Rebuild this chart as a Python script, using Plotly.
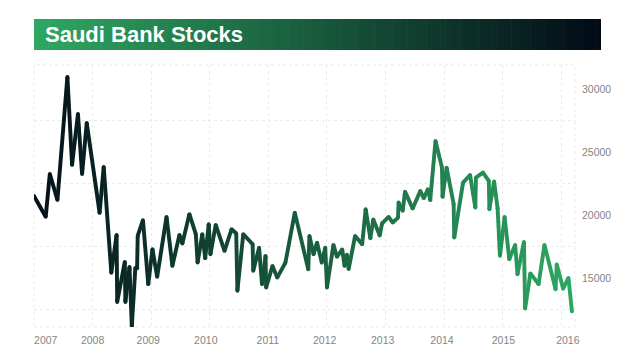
import plotly.graph_objects as go
import pandas as pd

# ---- data (decimal year, index value) ----
years = [2007.00, 2007.20, 2007.27, 2007.40, 2007.57, 2007.65, 2007.75, 2007.82, 2007.90,
         2008.12, 2008.19, 2008.32, 2008.41, 2008.42, 2008.55, 2008.56, 2008.63, 2008.67,
         2008.73, 2008.76, 2008.77, 2008.86, 2008.95, 2009.02, 2009.10, 2009.26, 2009.36,
         2009.48, 2009.53, 2009.65, 2009.76, 2009.79, 2009.87, 2009.92, 2009.98, 2010.01,
         2010.10, 2010.25, 2010.37, 2010.45, 2010.47, 2010.57, 2010.73, 2010.74, 2010.84,
         2010.89, 2010.95, 2010.96, 2011.07, 2011.15, 2011.29, 2011.45, 2011.68, 2011.70,
         2011.77, 2011.83, 2011.91, 2011.97, 2012.00, 2012.11, 2012.17, 2012.26, 2012.30,
         2012.34, 2012.37, 2012.48, 2012.60, 2012.66, 2012.74, 2012.79, 2012.90, 2012.94,
         2013.05, 2013.12, 2013.21, 2013.22, 2013.29, 2013.33, 2013.46, 2013.59, 2013.65,
         2013.72, 2013.76, 2013.85, 2013.96, 2013.97, 2014.04, 2014.16, 2014.17, 2014.32,
         2014.44, 2014.53, 2014.54, 2014.66, 2014.76, 2014.77, 2014.85, 2014.91, 2014.95,
         2015.03, 2015.11, 2015.21, 2015.25, 2015.36, 2015.38, 2015.47, 2015.61, 2015.71,
         2015.90, 2015.92, 2016.03, 2016.12, 2016.18]
values = [21500, 19850, 23250, 21190, 30950, 23970, 28020, 23250, 27300,
          20160, 23810, 15400, 18410, 13090, 16270, 13090, 15870, 11150,
          15790, 15770, 18330, 19580, 14500, 17280, 15080, 19840, 15950,
          18410, 17720, 20060, 18470, 16220, 18470, 16560, 19260, 16880,
          19210, 17140, 18860, 18520, 13970, 18470, 17670, 15560, 17400,
          14500, 16750, 14230, 15950, 15020, 16210, 20180, 15690, 18330,
          16880, 17800, 16210, 17400, 14230, 17620, 16670, 17260, 15950,
          16830, 15710, 18330, 17660, 20450, 18150, 19640, 18370, 19330,
          19840, 19390, 19790, 20980, 20320, 21850, 20500, 21900, 21330,
          22040, 21170, 25870, 23750, 21430, 23750, 20850, 18200, 22560,
          23170, 20580, 22960, 23360, 22700, 20450, 22650, 20530, 16750,
          19840, 16480, 17620, 15290, 17860, 12560, 15360, 14500, 17620,
          14100, 16060, 14140, 15000, 12340]

y_tick_values = [15000, 20000, 25000, 30000]
y_grid_values = [12500, 17500, 22500, 27500]
x_tick_labels = ["2007", "2008", "2009", "2010", "2011", "2012", "2013", "2014", "2015", "2016"]
x_label_years = [2007.2, 2008.0, 2008.95, 2009.93, 2010.99, 2011.96, 2012.95, 2013.96, 2015.01, 2016.11]
title_text = "Saudi Bank Stocks"


def to_date(y):
    yi = int(y)
    return pd.Timestamp(year=yi, month=1, day=1) + pd.Timedelta(days=(y - yi) * 365.25)


dates = [to_date(y) for y in years]
label_dates = [to_date(y) for y in x_label_years]

x_start = to_date(2007.0)
x_end = to_date(2016.232)
y_range = [11100, 31900]

dark = (4, 16, 26)
green = (44, 168, 98)


def mix(a, b, t):
    return "rgb(%d,%d,%d)" % tuple(round(a[k] + (b[k] - a[k]) * t) for k in range(3))


span = (x_end - x_start).total_seconds()


def frac(d):
    return max(0.0, min(1.0, (d - x_start).total_seconds() / span))


LW = 3.9
fig = go.Figure()
for i in range(len(dates) - 1):
    mid = dates[i] + (dates[i + 1] - dates[i]) / 2
    fig.add_trace(go.Scatter(
        x=[dates[i], dates[i + 1]], y=[values[i], values[i + 1]],
        mode="lines", line=dict(color=mix(dark, green, frac(mid)), width=LW),
        showlegend=False, hoverinfo="skip"))
fig.add_trace(go.Scatter(
    x=dates, y=values, mode="markers",
    marker=dict(size=LW, color=[mix(dark, green, frac(d)) for d in dates], line=dict(width=0)),
    showlegend=False, hovertemplate="%{x|%b %Y}: %{y}<extra></extra>"))
# invisible trace to activate label axes
fig.add_trace(go.Scatter(x=[x_start, x_end], y=y_range, xaxis="x2", yaxis="y2",
                         mode="markers", marker=dict(opacity=0), showlegend=False, hoverinfo="skip"))

grid_col = "#ebebeb"
tick_font = dict(family="Liberation Sans, Arial, sans-serif", size=10.5, color="#858585")

fig.update_layout(
    width=640, height=360,
    margin=dict(l=34, r=65, t=65, b=33, autoexpand=False),
    paper_bgcolor="white", plot_bgcolor="white",
    xaxis=dict(type="date", range=[x_start, x_end], dtick="M12", tick0="2007-01-01",
               showgrid=True, gridcolor=grid_col, griddash="dot", gridwidth=1,
               showticklabels=False, zeroline=False, showline=False, ticks=""),
    yaxis=dict(range=y_range, tickvals=y_grid_values, showgrid=True, gridcolor=grid_col,
               griddash="dot", gridwidth=1, showticklabels=False, zeroline=False, ticks=""),
    xaxis2=dict(type="date", overlaying="x", range=[x_start, x_end], side="bottom",
                tickvals=label_dates, ticktext=x_tick_labels, showgrid=False, zeroline=False,
                ticks="", tickfont=tick_font, ticklabelstandoff=5, anchor="y2"),
    yaxis2=dict(overlaying="y", side="right", range=y_range, tickvals=y_tick_values,
                tickformat="d", showgrid=False, zeroline=False, ticks="", tickfont=tick_font,
                ticklabelstandoff=6, anchor="x2"),
    showlegend=False,
)

# dotted frame around the plot area
fig.add_shape(type="rect", xref="paper", yref="paper", x0=0, x1=1, y0=0, y1=1,
              line=dict(color=grid_col, width=1, dash="dot"), layer="below")

# gradient title banner
b_left, b_right = 34, 601
b_top, b_bot = 19, 50
pw, ph = 640 - 34 - 65, 360 - 65 - 33
banner_green = (46, 168, 98)
banner_dark = (2, 10, 22)
n = 120
for k in range(n):
    px0 = b_left + (b_right - b_left) * k / n
    px1 = b_left + (b_right - b_left) * (k + 1) / n + 0.6
    fig.add_shape(type="rect", xref="paper", yref="paper",
                  x0=(px0 - 34) / pw, x1=(min(px1, b_right) - 34) / pw,
                  y0=(360 - 33 - b_bot) / ph, y1=(360 - 33 - b_top) / ph,
                  line=dict(width=0), fillcolor=mix(banner_green, banner_dark, (k + 0.5) / n))

fig.add_annotation(text="<b>" + title_text + "</b>", xref="paper", yref="paper",
                   x=(43 - 34) / pw, y=(360 - 33 - 34.5) / ph, xanchor="left", yanchor="middle",
                   showarrow=False,
                   font=dict(family="Liberation Sans, Arial, sans-serif", size=22, color="white"))

fig.write_html("out.html", post_script="document.body.style.margin='0';",
               config={"displayModeBar": False})
